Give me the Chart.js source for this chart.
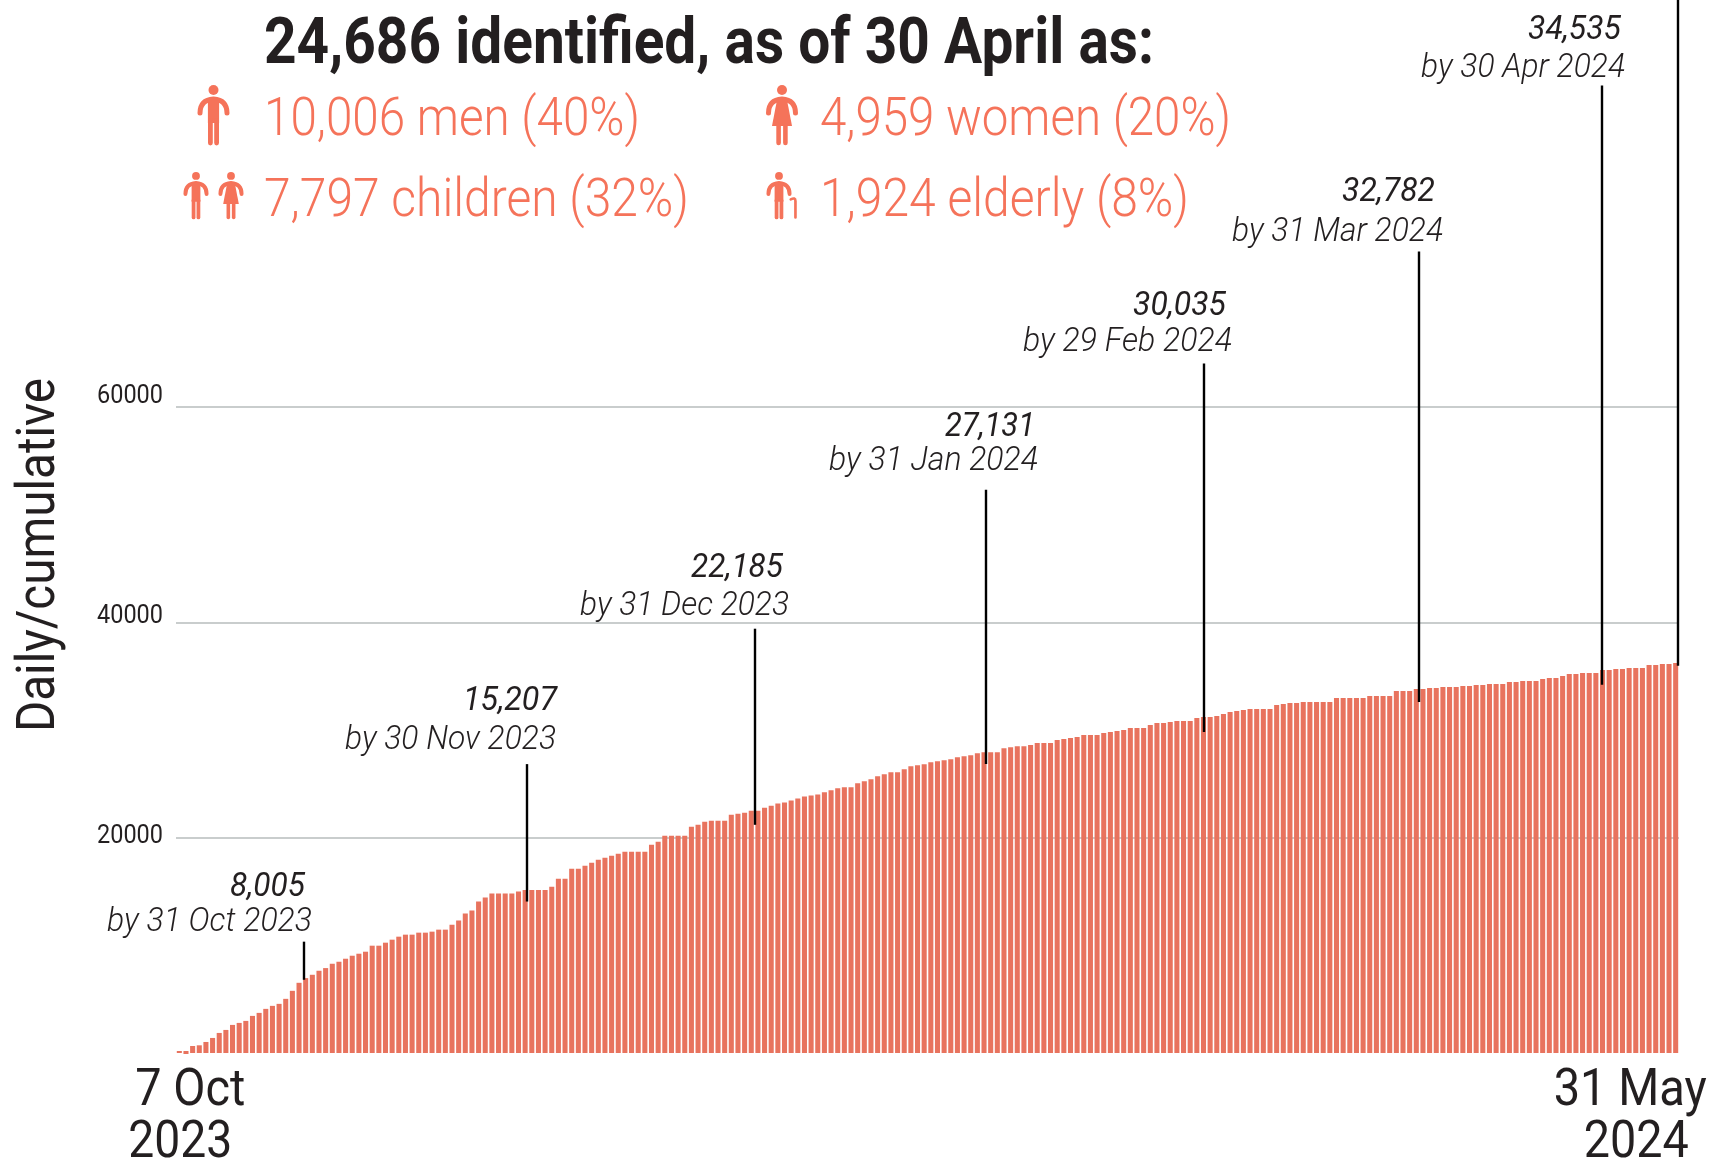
<!DOCTYPE html>
<html lang="en">
<head>
<meta charset="utf-8">
<title>Daily/cumulative identified</title>
<style>
  html, body { margin: 0; padding: 0; background: #fff; }
  canvas { display: block; }
</style>
<script src="https://cdn.jsdelivr.net/npm/chart.js@4/dist/chart.umd.min.js"></script>
</head>
<body>
<canvas id="chart" width="1717" height="1160"></canvas>
<script>
"use strict";

// Daily cumulative bars
const barValues = [
  280, [-190, 280], 744, 806, 1116, 1488, 1953, 2232, 2697, 2883,
  3069, 3534, 3813, 4185, 4464, 4650, 5115, 5859, 6603, 7037,
  7347, 7719, 7967, 8370, 8556, 8835, 9114, 9300, 9486, 10044,
  10044, 10323, 10602, 10881, 11067, 11067, 11253, 11253, 11346, 11532,
  11532, 11997, 12369, 13020, 13299, 14136, 14508, 14880, 14880, 14880,
  14880, 15066, 15220, 15220, 15220, 15220, 15500, 16244, 16244, 17174,
  17174, 17453, 17732, 18011, 18197, 18383, 18569, 18755, 18755, 18755,
  18755, 19406, 19685, 20243, 20243, 20243, 20243, 21080, 21266, 21545,
  21638, 21638, 21638, 22196, 22289, 22382, 22568, 22568, 22847, 23033,
  23219, 23312, 23498, 23684, 23870, 23963, 24056, 24273, 24459, 24645,
  24738, 24738, 25110, 25296, 25482, 25761, 25947, 26133, 26133, 26412,
  26691, 26784, 26877, 27063, 27156, 27249, 27342, 27528, 27621, 27714,
  27900, 27993, 27993, 27993, 28365, 28458, 28551, 28551, 28644, 28830,
  28830, 28830, 29109, 29202, 29295, 29388, 29574, 29574, 29574, 29760,
  29853, 29946, 30039, 30225, 30225, 30225, 30504, 30690, 30690, 30783,
  30876, 30876, 30876, 31155, 31248, 31248, 31341, 31527, 31713, 31806,
  31899, 31992, 31992, 31992, 31992, 32364, 32457, 32550, 32550, 32643,
  32643, 32643, 32643, 32643, 33015, 33015, 33015, 33015, 33015, 33201,
  33201, 33201, 33201, 33666, 33666, 33666, 33852, 33852, 33945, 33945,
  34038, 34038, 34038, 34131, 34131, 34224, 34224, 34317, 34317, 34317,
  34503, 34503, 34596, 34596, 34596, 34782, 34875, 34875, 35061, 35247,
  35247, 35340, 35340, 35340, 35619, 35619, 35712, 35712, 35805, 35805,
  35805, 36084, 36084, 36177, 36177, 36270
];
const barLabels = barValues.map((_, i) => i);

const yTickValues = [20000, 40000, 60000];
const yTitle = "Daily/cumulative";
const xTickLines = [["7 Oct", "2023"], ["31 May", "2024"]];

// Leader lines: where they sit on the bar axis, and the values they run between
const noteIndex  = [18.75, 52.24, 86.5, 121.35, 154.1, 186.4, 213.9, 225.4];
const noteBottom = [6884, 14139, 21255, 26883, 29860, 32650, 34232, 36000];
const noteTop    = [10418, 26883, 39440, 52325, 64045, 74420, 89810, 97860];
const noteTotals = ["8,005", "15,207", "22,185", "27,131", "30,035", "32,782", "34,535"];
const noteDates  = ["by 31 Oct 2023", "by 30 Nov 2023", "by 31 Dec 2023", "by 31 Jan 2024",
                    "by 29 Feb 2024", "by 31 Mar 2024", "by 30 Apr 2024"];

const headline = "24,686 identified, as of 30 April as:";
const breakdown = ["10,006 men (40%)", "4,959 women (20%)", "7,797 children (32%)", "1,924 elderly (8%)"];

const CORAL = "#f5735a";
const BAR   = "#e8735e";
const INK   = "#231f20";

// Text is fitted to a width, since Roboto Condensed is not installed
function fitText(ctx, text, left, baseline, width, font, color) {
  ctx.save();
  ctx.font = font;
  ctx.fillStyle = color;
  ctx.textAlign = "left";
  ctx.textBaseline = "alphabetic";
  const w = ctx.measureText(text).width;
  ctx.translate(left, baseline);
  ctx.scale(width / w, 1);
  ctx.fillText(text, 0, 0);
  ctx.restore();
}

// ── Pictograms ────────────────────────────────────────────────

function limb(ctx, x1, y1, x2, y2, lw) {
  ctx.lineWidth = lw;
  ctx.beginPath();
  ctx.moveTo(x1, y1);
  ctx.lineTo(x2, y2);
  ctx.stroke();
}

function person(ctx, cx, top, h, kind) {
  ctx.save();
  ctx.translate(cx, top);
  ctx.scale(h / 60, h / 60);
  ctx.fillStyle = CORAL;
  ctx.strokeStyle = CORAL;
  ctx.lineCap = "round";

  ctx.beginPath();
  ctx.arc(0, 5, 5, 0, Math.PI * 2);
  ctx.fill();

  // shoulders and arms
  ctx.lineWidth = 5;
  ctx.beginPath();
  ctx.moveTo(-13.5, 28);
  ctx.quadraticCurveTo(-13.5, 15, 0, 14);
  ctx.quadraticCurveTo(13.5, 15, 13.5, 28);
  ctx.stroke();

  if (kind === "woman") {
    ctx.beginPath();
    ctx.moveTo(-5, 15);
    ctx.lineTo(5, 15);
    ctx.lineTo(10, 41);
    ctx.lineTo(-10, 41);
    ctx.closePath();
    ctx.fill();
    limb(ctx, -3.4, 41, -3.4, 58, 4.6);
    limb(ctx, 3.4, 41, 3.4, 58, 4.6);
  } else {
    ctx.fillRect(-5.6, 14, 11.2, 24);
    limb(ctx, -3.1, 36, -3.1, 58, 4.8);
    limb(ctx, 3.1, 36, 3.1, 58, 4.8);
  }

  if (kind === "elder") {
    ctx.lineWidth = 3.4;
    ctx.beginPath();
    ctx.moveTo(21, 58);
    ctx.lineTo(21, 37);
    ctx.quadraticCurveTo(21, 32, 15, 35);
    ctx.stroke();
  }
  ctx.restore();
}

// ── Overlay drawn on top of the bars ──────────────────────────

const overlay = {
  id: "overlay",
  afterDraw(chart) {
    const { ctx, scales: { x, y } } = chart;

    // y tick labels drift away from their gridlines towards the top
    const tickShift = [5, 0.5, -4];
    yTickValues.forEach((v, i) => {
      fitText(ctx, String(v), 97, y.getPixelForValue(v) + tickShift[i], 66, "400 26px Roboto", INK);
    });

    ctx.save();
    ctx.translate(54, 732);
    ctx.rotate(-Math.PI / 2);
    fitText(ctx, yTitle, 0, 0, 354, "400 54px Roboto", INK);
    ctx.restore();

    // x labels hang off the first and last bars
    const firstX = x.getPixelForValue(0);
    const lastX = x.getPixelForValue(barValues.length - 1);
    const base = y.getPixelForValue(0);
    fitText(ctx, xTickLines[0][0], firstX - 44, base + 51, 110, "400 52px Roboto", INK);
    fitText(ctx, xTickLines[0][1], firstX - 51, base + 103, 104, "400 52px Roboto", INK);
    fitText(ctx, xTickLines[1][0], lastX - 122, base + 51, 153, "400 52px Roboto", INK);
    fitText(ctx, xTickLines[1][1], lastX - 92, base + 103, 105, "400 52px Roboto", INK);

    // leader lines
    ctx.strokeStyle = "#000";
    ctx.lineWidth = 2.4;
    noteIndex.forEach((idx, i) => {
      const px = Math.round(x.getPixelForValue(idx));
      ctx.beginPath();
      ctx.moveTo(px, y.getPixelForValue(noteTop[i]));
      ctx.lineTo(px, y.getPixelForValue(noteBottom[i]));
      ctx.stroke();
    });

    // note text, one row per month
    const totalBox = [[230, 896, 75], [463, 710, 94], [691, 577, 92], [945, 436, 90],
                      [1133, 315, 93], [1342, 201, 93], [1528, 39, 93]];
    const dateBox  = [[107, 931, 205], [345, 749, 211], [580, 615, 209], [829, 470, 209],
                      [1023, 351, 209], [1232, 241, 211], [1421, 77, 204]];
    noteTotals.forEach((t, i) => {
      const [l, b, w] = totalBox[i];
      fitText(ctx, t, l, b, w, "italic 400 33px Roboto", INK);
    });
    noteDates.forEach((t, i) => {
      const [l, b, w] = dateBox[i];
      fitText(ctx, t, l, b, w, "italic 300 33px Roboto", INK);
    });

    // header block
    fitText(ctx, headline, 264, 63, 890, "700 64px Roboto", INK);
    fitText(ctx, breakdown[0], 264, 135, 376, "300 54px Roboto", CORAL);
    fitText(ctx, breakdown[1], 820, 135, 411, "300 54px Roboto", CORAL);
    fitText(ctx, breakdown[2], 264, 216, 425, "300 54px Roboto", CORAL);
    fitText(ctx, breakdown[3], 820, 216, 369, "300 54px Roboto", CORAL);

    person(ctx, 213.5, 85, 60, "man");
    person(ctx, 782, 85, 60, "woman");
    person(ctx, 196, 172, 47, "man");
    person(ctx, 231, 172, 47, "woman");
    person(ctx, 779, 172, 47, "elder");
  }
};

new Chart(document.getElementById("chart"), {
  type: "bar",
  data: {
    labels: barLabels,
    datasets: [{
      data: barValues,
      backgroundColor: BAR,
      borderWidth: 0,
      categoryPercentage: 1,
      barPercentage: 0.76
    }]
  },
  options: {
    responsive: false,
    animation: false,
    layout: { padding: { left: 176, right: 38, top: 407, bottom: 98 } },
    plugins: { legend: { display: false }, tooltip: { enabled: false } },
    scales: {
      x: {
        grid: { display: false },
        border: { display: false },
        ticks: { display: false }
      },
      y: {
        min: 0,
        max: 60000,
        border: { display: false },
        grid: {
          drawTicks: false,
          lineWidth: 2,
          color: c => (c.tick.value === 0 ? "transparent" : "#c9cdcd")
        },
        ticks: { display: false, stepSize: 20000 }
      }
    }
  },
  plugins: [overlay]
});
</script>
</body>
</html>
